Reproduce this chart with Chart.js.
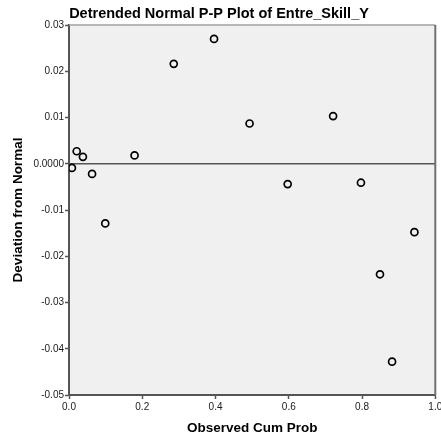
<!DOCTYPE html>
<html lang="en">
<head>
    <meta charset="UTF-8">
    <title>Detrended Normal P-P Plot of Entre_Skill_Y</title>
    <script src="https://cdn.jsdelivr.net/npm/chart.js"></script>
    <style>
        body {
            margin: 0;
            padding: 0;
            background-color: #ffffff;
        }
        #wrap {
            width: 441px;
            height: 436px;
        }
    </style>
</head>
<body>
    <div id="wrap">
        <canvas id="ppChart" width="441" height="436"></canvas>
    </div>
    <script>
        // observed cumulative probability (x) and deviation from normal (y)
        const observedCumProb = [0.008, 0.021, 0.038, 0.063, 0.099, 0.179, 0.286, 0.396, 0.493, 0.597, 0.721, 0.797, 0.849, 0.882, 0.943];
        const deviation = [-0.0009, 0.0027, 0.0015, -0.0022, -0.0129, 0.0018, 0.0216, 0.0270, 0.0087, -0.0044, 0.0103, -0.0041, -0.0239, -0.0428, -0.0148];

        const xTicks = [0, 0.2, 0.4, 0.6, 0.8, 1.0];
        const xTickLabels = ['0.0', '0.2', '0.4', '0.6', '0.8', '1.0'];
        const yTicks = [0.03, 0.02, 0.01, 0, -0.01, -0.02, -0.03, -0.04, -0.05];
        const yTickLabels = ['0.03', '0.02', '0.01', '0.0000', '-0.01', '-0.02', '-0.03', '-0.04', '-0.05'];

        const tickFont = { family: 'Arial, "Liberation Sans", sans-serif', size: 10 };
        const boldFont = { family: 'Arial, "Liberation Sans", sans-serif', size: 13.5, weight: 'bold' };

        function labelFor(values, labels, v) {
            for (let i = 0; i < values.length; i++) {
                if (Math.abs(values[i] - v) < 1e-9) return labels[i];
            }
            return '';
        }

        // grey plot background and the top/right frame
        const plotFrame = {
            id: 'plotFrame',
            beforeDraw(chart) {
                const { ctx, chartArea: a } = chart;
                ctx.save();
                ctx.fillStyle = '#f0f0f0';
                ctx.fillRect(a.left, a.top, a.right - a.left, a.bottom - a.top);
                ctx.restore();
            },
            afterDraw(chart) {
                const { ctx, chartArea: a } = chart;
                ctx.save();
                ctx.strokeStyle = '#a0a0a0';
                ctx.lineWidth = 1.5;
                ctx.beginPath();
                ctx.moveTo(a.left, a.top);
                ctx.lineTo(a.right, a.top);
                ctx.stroke();
                ctx.strokeStyle = '#707070';
                ctx.lineWidth = 2;
                ctx.beginPath();
                ctx.moveTo(a.right, a.top);
                ctx.lineTo(a.right, a.bottom);
                ctx.stroke();
                ctx.restore();
            }
        };

        const ppChart = new Chart(document.getElementById('ppChart').getContext('2d'), {
            type: 'scatter',
            data: {
                datasets: [
                    {
                        label: 'Deviation',
                        data: observedCumProb.map((x, i) => ({ x: x, y: deviation[i] })),
                        pointRadius: 3.5,
                        pointBorderWidth: 1.7,
                        borderColor: '#000000',
                        backgroundColor: 'rgba(0,0,0,0)',
                        order: 1
                    },
                    {
                        label: 'Zero',
                        data: [{ x: 0, y: 0 }, { x: 1, y: 0 }],
                        showLine: true,
                        pointRadius: 0,
                        borderColor: '#555555',
                        borderWidth: 1.5,
                        order: 2
                    }
                ]
            },
            options: {
                responsive: false,
                animation: false,
                layout: { padding: { left: 0, right: 3, top: 0, bottom: 0 } },
                plugins: {
                    legend: { display: false },
                    tooltip: { enabled: false },
                    title: {
                        display: true,
                        text: 'Detrended Normal P-P Plot of Entre_Skill_Y',
                        color: '#000000',
                        font: { family: 'Arial, "Liberation Sans", sans-serif', size: 14.5, weight: 'bold' },
                        padding: { top: 5.5, bottom: 2.1 }
                    }
                },
                scales: {
                    x: {
                        type: 'linear',
                        min: 0,
                        max: 1,
                        afterBuildTicks: (s) => { s.ticks = xTicks.map(v => ({ value: v })); },
                        afterFit: (s) => { s.height = 41; s.paddingLeft = 0; s.paddingRight = 0; },
                        ticks: {
                            color: '#1a1a1a',
                            font: tickFont,
                            padding: 2,
                            maxRotation: 0,
                            autoSkip: false,
                            callback: (v) => labelFor(xTicks, xTickLabels, v)
                        },
                        grid: { drawOnChartArea: false, tickLength: 4, color: '#555555', tickWidth: 1.5 },
                        border: { color: '#555555', width: 2 },
                        title: {
                            display: true,
                            text: 'Observed Cum Prob',
                            color: '#000000',
                            font: boldFont,
                            padding: { top: 0, bottom: 0 }
                        }
                    },
                    y: {
                        type: 'linear',
                        min: -0.05,
                        max: 0.03,
                        afterBuildTicks: (s) => { s.ticks = yTicks.slice().reverse().map(v => ({ value: v })); },
                        afterFit: (s) => { s.width = 69; s.paddingTop = 0; s.paddingBottom = 0; },
                        ticks: {
                            color: '#1a1a1a',
                            font: tickFont,
                            padding: 1,
                            autoSkip: false,
                            callback: (v) => labelFor(yTicks, yTickLabels, v)
                        },
                        grid: { drawOnChartArea: false, tickLength: 4, color: '#555555', tickWidth: 1.5 },
                        border: { color: '#555555', width: 2 },
                        title: {
                            display: true,
                            text: 'Deviation from Normal',
                            color: '#000000',
                            font: boldFont,
                            padding: { top: 10, bottom: 0 }
                        }
                    }
                }
            },
            plugins: [plotFrame]
        });
    </script>
</body>
</html>
